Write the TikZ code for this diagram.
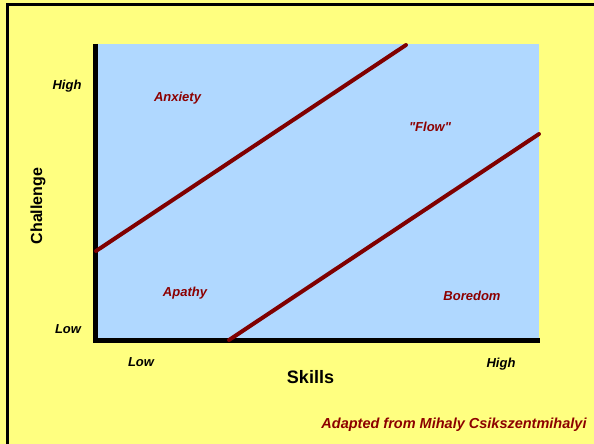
\documentclass[tikz,border=0pt]{standalone}
\usepackage{fontspec}
\setmainfont{Liberation Sans}[Ligatures=TeXOff]
\definecolor{bgyellow}{RGB}{255,255,128}
\definecolor{plotblue}{RGB}{176,216,255}
\definecolor{linered}{RGB}{128,0,0}
\definecolor{textred}{RGB}{140,0,0}
\begin{document}
\begin{tikzpicture}[x=1pt,y=-1pt,
  ticklabel/.style={font=\fontsize{13}{13}\selectfont\bfseries\itshape, text=black, inner sep=0pt},
  zonelabel/.style={font=\fontsize{13}{13}\selectfont\bfseries\itshape, text=textred, inner sep=0pt},
  axistitle/.style={font=\fontsize{18}{18}\selectfont\bfseries, text=black, inner sep=0pt},
  axisline/.style={line width=5pt, black},
  regionline/.style={line width=4pt, linered, line cap=round}]
\useasboundingbox (0,0) rectangle (594,444);
\clip (0,0) rectangle (594,444);
\fill[bgyellow] (0,0) rectangle (594,444);
\draw[line width=3pt, black] (7.5,460) -- (7.5,4.5) -- (610,4.5);
% plot area
\fill[plotblue] (95.5,44) rectangle (539,340);
\coordinate (origin) at (95.5,340);
\coordinate (ytop) at (95.5,44);
\coordinate (xend) at (540,340);
\draw[axisline] (ytop) -- (origin) -- (xend);
% region boundaries
\coordinate (a1) at (96,251);
\coordinate (a2) at (406,45);
\coordinate (b1) at (229,340);
\coordinate (b2) at (539,134);
\draw[regionline] (a1) -- (a2);
\draw[regionline] (b1) -- (b2);
% labels
\node[ticklabel] (yhigh) at (67,86) {High};
\node[ticklabel] (ylow) at (68,329) {Low};
\node[ticklabel] (xlow) at (141,362) {Low};
\node[ticklabel] (xhigh) at (501,364) {High};
\node[axistitle] (skills) at (310.5,377) {Skills};
\node[axistitle, font=\fontsize{16}{16}\selectfont\bfseries, rotate=90] (challenge) at (38,206) {Challenge};
\node[zonelabel] (anxiety) at (177.5,98) {Anxiety};
\node[zonelabel] (flow) at (430,127) {"Flow"};
\node[zonelabel] (apathy) at (185,293) {Apathy};
\node[zonelabel] (boredom) at (472,296) {Boredom};
\node[zonelabel, font=\fontsize{14.5}{14.5}\selectfont\bfseries\itshape] (credit) at (454,425) {Adapted from Mihaly Csikszentmihalyi};
\end{tikzpicture}
\end{document}
